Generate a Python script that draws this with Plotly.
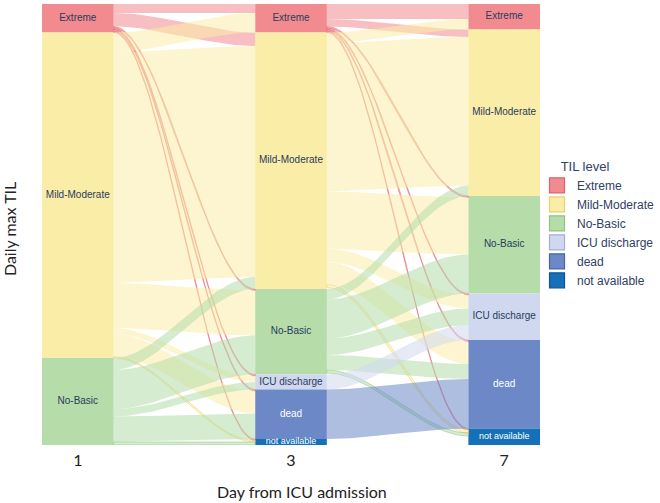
import plotly.graph_objects as go

# ---------------- data ----------------
days = ["1", "3", "7"]
levels = ["Extreme", "Mild-Moderate", "No-Basic", "ICU discharge", "dead", "not available"]

# patients in each TIL level per day (stratum sizes)
day1_counts = [19, 217, 58, 0, 0, 0]
day3_counts = [19, 171, 57, 10, 33, 4]
day7_counts = [17, 111, 65, 31, 59, 11]

# transitions: rows = level on earlier day, columns = level on later day
flow_day1_day3 = [
    [6, 9, 1, 1, 1, 1],
    [13, 154, 30, 4, 15, 1],
    [0, 8, 26, 5, 17, 2],
    [0, 0, 0, 0, 0, 0],
    [0, 0, 0, 0, 0, 0],
    [0, 0, 0, 0, 0, 0],
]
flow_day3_day7 = [
    [10, 5, 1, 1, 1, 1],
    [7, 99, 38, 9, 15, 2],
    [0, 7, 26, 11, 10, 2],
    [0, 0, 0, 10, 0, 0],
    [0, 0, 0, 0, 33, 0],
    [0, 0, 0, 0, 0, 0],
]

# ---------------- styles ----------------
fill_colors = [(242, 139, 144), (250, 237, 168), (181, 220, 169), (207, 216, 238), (108, 136, 199), (21, 112, 184)]
edge_colors = [(226, 96, 108), (236, 208, 105), (140, 196, 128), (160, 175, 220), (70, 100, 170), (15, 85, 150)]
label_colors = ["#2B3B5E", "#2B3B5E", "#2B3B5E", "#2B3B5E", "#FFFFFF", "#FFFFFF"]
NAVY = "#2F4063"

def rgba(c, a):
    return "rgba(%d,%d,%d,%.3f)" % (c[0], c[1], c[2], a)

counts = [day1_counts, day3_counts, day7_counts]
flows = [flow_day1_day3, flow_day3_day7]
TOTAL = sum(day1_counts)
HALF = 0.168  # half width of a stratum column in axis units

def tops(cnt):
    out, acc = [], 0
    for v in cnt:
        out.append(acc)
        acc += v
    return out

fig = go.Figure()

# ---------------- flows ----------------
N = 48
for k, fm in enumerate(flows):
    src_off = tops(counts[k])
    dst_off = tops(counts[k + 1])
    starts = {}
    for s in range(6):
        for d in range(6):
            v = fm[s][d]
            if v > 0:
                starts[(s, d)] = src_off[s]
                src_off[s] += v
    ends = {}
    for d in range(6):
        for s in range(6):
            v = fm[s][d]
            if v > 0:
                ends[(s, d)] = dst_off[d]
                dst_off[d] += v
    x0 = k + HALF
    x1 = k + 1 - HALF
    for s in range(6):
        for d in range(6):
            v = fm[s][d]
            if v <= 0:
                continue
            y0, y1 = starts[(s, d)], ends[(s, d)]
            xs_top, ys_top = [], []
            for i in range(N + 1):
                t = i / N
                w = t * t * (3 - 2 * t)
                xs_top.append(x0 + (x1 - x0) * t)
                ys_top.append(y0 + (y1 - y0) * w)
            xs = xs_top + xs_top[::-1]
            ys = ys_top + [yy + v for yy in ys_top[::-1]]
            thin = v <= 2
            fig.add_trace(go.Scatter(
                x=xs + [xs[0]], y=ys + [ys[0]], mode="lines", fill="toself",
                fillcolor=rgba(fill_colors[s], 0.55),
                line=dict(color=rgba(edge_colors[s], 0.75) if thin else "rgba(0,0,0,0)",
                          width=0.7 if thin else 0),
                hoverinfo="skip", showlegend=False))

# ---------------- strata (stacked bars) ----------------
for li, lev in enumerate(levels):
    ys = [c[li] for c in counts]
    bases = [tops(c)[li] for c in counts]
    fig.add_trace(go.Bar(
        x=[0, 1, 2], y=ys, base=bases, width=2 * HALF,
        marker=dict(color=rgba(fill_colors[li], 1), line=dict(width=0)),
        showlegend=False, hoverinfo="skip"))

# labels inside strata
lx, ly, lt, lc, ls = [], [], [], [], []
for k, c in enumerate(counts):
    tp = tops(c)
    for li, lev in enumerate(levels):
        if c[li] > 0:
            lx.append(k)
            ly.append(tp[li] + c[li] / 2)
            lt.append(lev)
            lc.append(label_colors[li])
            ls.append(9 if lev == "not available" else 10)
fig.add_trace(go.Scatter(
    x=lx, y=ly, text=lt, mode="text",
    textfont=dict(family="Liberation Sans, Arial", size=ls, color=lc),
    showlegend=False, hoverinfo="skip"))

# legend entries
for li, lev in enumerate(levels):
    fig.add_trace(go.Scatter(
        x=[None], y=[None], mode="markers", name=lev,
        marker=dict(symbol="square", size=15, color=rgba(fill_colors[li], 1),
                    line=dict(color=rgba(edge_colors[li], 1), width=1.2))))

fig.update_layout(
    width=660, height=503,
    margin=dict(l=42, r=120, t=4, b=58, autoexpand=False),
    paper_bgcolor="white", plot_bgcolor="white",
    barmode="overlay",
    xaxis=dict(range=[-HALF, 2 + HALF], tickvals=[0, 1, 2], ticktext=days,
               showgrid=False, zeroline=False, showline=False, ticks="",
               tickfont=dict(family="Lato", size=16, color="#222222"),
               ticklabelstandoff=4, fixedrange=True),
    yaxis=dict(range=[TOTAL, 0], visible=False, fixedrange=True),
    legend=dict(x=0.994, xanchor="left", y=0.66, yanchor="top",
                title=dict(text="\u00a0\u00a0\u00a0\u00a0\u00a0\u00a0TIL level",
                           font=dict(family="Liberation Sans, Arial", size=13, color=NAVY)),
                font=dict(family="Liberation Sans, Arial", size=12, color=NAVY),
                itemsizing="trace", tracegroupgap=0, bgcolor="rgba(0,0,0,0)"),
    annotations=[
        dict(text="Day from ICU admission", xref="paper", yref="paper",
             x=0.522, y=-0.106, xanchor="center", yanchor="middle", showarrow=False,
             font=dict(family="Lato", size=16, color="#222222")),
        dict(text="Daily max TIL", xref="paper", yref="paper", textangle=-90,
             x=-0.064, y=0.49, xanchor="center", yanchor="middle", showarrow=False,
             font=dict(family="Lato", size=16, color="#222222")),
    ],
)

fig.write_html("out.html", config={"displayModeBar": False},
               post_script="document.body.style.margin='0px';")
